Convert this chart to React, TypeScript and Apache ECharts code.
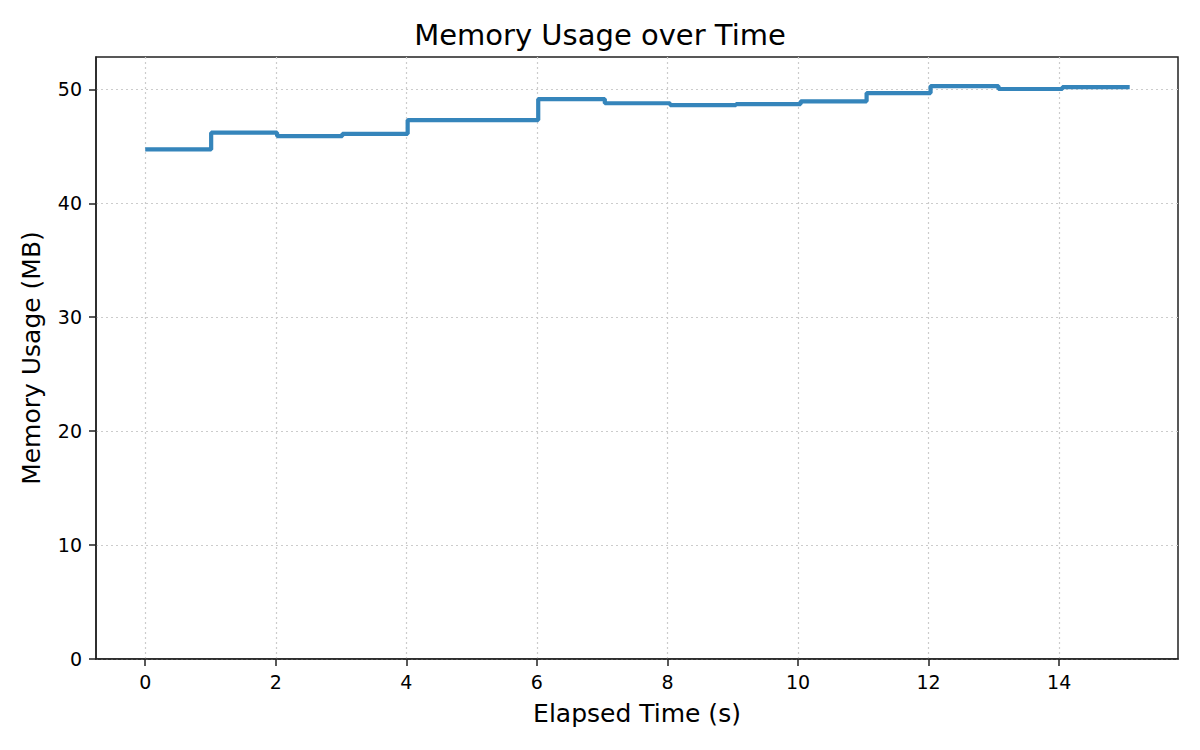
import React, { useEffect, useRef } from "react";
import * as echarts from "echarts";

const times = [0, 1.01, 2.02, 3.02, 4.02, 5.02, 6.02, 7.04, 8.04, 9.05, 10.04, 11.05, 12.03, 13.07, 14.05, 15.08];
const memory = [44.73, 46.2, 45.9, 46.1, 47.3, 47.3, 49.15, 48.78, 48.62, 48.71, 48.95, 49.67, 50.29, 50.03, 50.2, 50.2];
const xTicks = [0, 2, 4, 6, 8, 10, 12, 14];
const yTicks = [0, 10, 20, 30, 40, 50];

const FONT = "DejaVu Sans";

export default function App() {
  const ref = useRef<HTMLDivElement>(null);
  useEffect(() => {
    if (!ref.current) return;
    const chart = echarts.init(ref.current, null, { renderer: "svg" });
    const gridLine = { show: true, lineStyle: { color: "#cccccc", width: 1.2, type: [2, 3] as any } };
    chart.setOption({
      animation: false,
      backgroundColor: "#ffffff",
      title: {
        text: "Memory Usage over Time",
        left: "center",
        top: 15,
        textStyle: { fontFamily: FONT, fontSize: 29, fontWeight: "normal", color: "#000" },
      },
      grid: {
        left: 96,
        right: 22,
        top: 57,
        bottom: 91,
        show: true,
        borderColor: "#222",
        borderWidth: 1.5,
        containLabel: false,
      },
      xAxis: {
        type: "value",
        min: -0.754,
        max: 15.82,
        name: "Elapsed Time (s)",
        nameLocation: "middle",
        nameGap: 42,
        nameTextStyle: { fontFamily: FONT, fontSize: 25, color: "#000" },
        axisLine: { show: true, onZero: false, lineStyle: { color: "#222", width: 1.5 } },
        axisTick: { show: true, length: 7, lineStyle: { color: "#222", width: 1.5 }, customValues: xTicks },
        axisLabel: { fontFamily: FONT, fontSize: 19, color: "#000", margin: 13, customValues: xTicks },
        splitLine: gridLine,
      },
      yAxis: {
        type: "value",
        min: 0,
        max: 52.84,
        name: "Memory Usage (MB)",
        nameLocation: "middle",
        nameGap: 52,
        nameTextStyle: { fontFamily: FONT, fontSize: 25, color: "#000" },
        axisLine: { show: true, onZero: false, lineStyle: { color: "#222", width: 1.5 } },
        axisTick: { show: true, length: 7, lineStyle: { color: "#222", width: 1.5 }, customValues: yTicks },
        axisLabel: { fontFamily: FONT, fontSize: 19, color: "#000", margin: 14, customValues: yTicks },
        splitLine: gridLine,
      },
      series: [
        {
          type: "line",
          step: "end",
          data: times.map((t, i) => [t, memory[i]]),
          showSymbol: false,
          lineStyle: { color: "#3585bb", width: 4.2 },
          itemStyle: { color: "#3585bb" },
        },
      ],
    });
    return () => chart.dispose();
  }, []);
  return <div ref={ref} style={{ width: 1200, height: 750, position: "absolute", left: 0, top: 0 }} />;
}
